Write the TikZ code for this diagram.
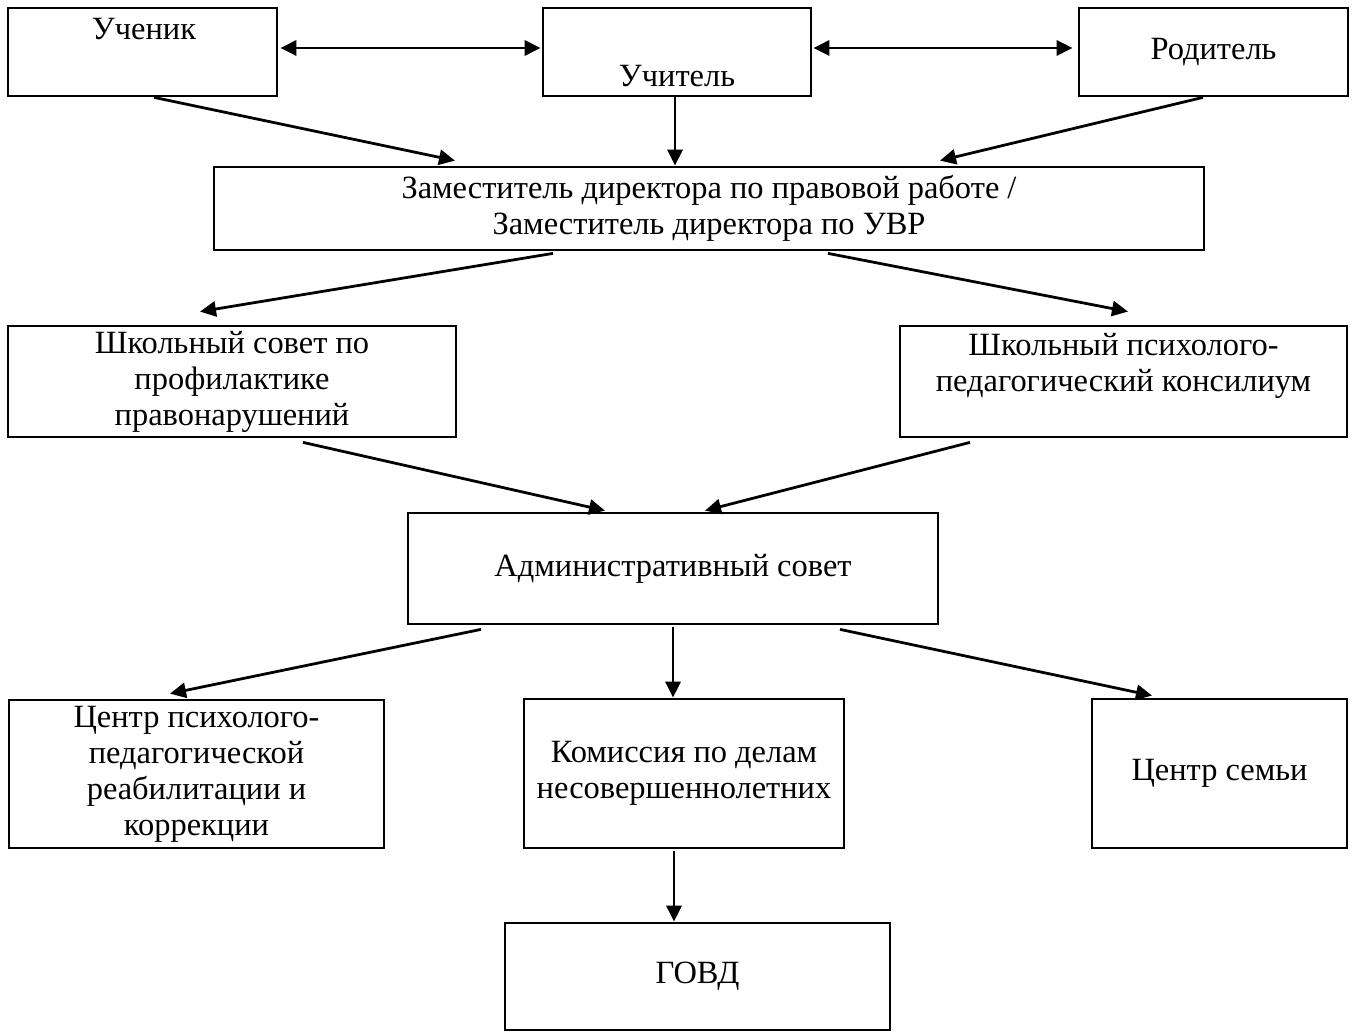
\documentclass[tikz,border=0pt]{standalone}
\usepackage{fontspec}
\setmainfont{Liberation Serif}
\usetikzlibrary{arrows.meta}

\begin{document}
\begin{tikzpicture}[x=0.45pt, y=-0.45pt,
        font=\fontsize{14.6}{16.2}\selectfont,
        box/.style 2 args={draw, line width=1.25pt, rectangle, align=center,
                           inner sep=0pt, minimum width=#1*0.45pt, minimum height=#2*0.45pt},
        txt/.style={align=center, inner sep=0pt},
        arr/.style={line width=1.25pt, -{Triangle[length=7.2pt, width=6.8pt]}},
        dbl/.style={line width=1.25pt, {Triangle[length=7.2pt, width=6.8pt]}-{Triangle[length=7.2pt, width=6.8pt]}}]
    \useasboundingbox (0,0) rectangle (1354,1032);

    % Top row
    \node[box={269}{88}] (ucen) at (142.5,52) {};
    \node[txt] (ucen-t) at ([shift={(1.5,-23)}]ucen.center) {Ученик};
    \node[box={268}{88}] (ucit) at (677,52) {};
    \node[txt] (ucit-t) at ([shift={(0,24)}]ucit.center) {Учитель};
    \node[box={269}{88}] (rod) at (1213.5,52) {Родитель};

    % Deputies
    \node[box={990}{83}] (zam) at (709,208.5)
        {Заместитель директора по правовой работе /\\ Заместитель директора по УВР};

    % Councils
    \node[box={448}{111}] (sovet) at (232,381.5)
        {Школьный совет по\\ профилактике\\ правонарушений};
    \node[box={447}{111}] (ppk) at (1123.5,381.5) {};
    \node[txt] (ppk-t) at ([shift={(0,-16)}]ppk.center)
        {Школьный психолого-\\ педагогический консилиум};
    \node[box={530}{111}] (adm) at (673,568.5) {Административный совет};

    % Bottom row
    \node[box={375}{148}] (centr) at (196.5,774)
        {Центр психолого-\\ педагогической\\ реабилитации и\\ коррекции};
    \node[box={320}{149}] (kdn) at (684,773.5)
        {Комиссия по делам\\ несовершеннолетних};
    \node[box={255}{149}] (semya) at (1219.5,773.5) {Центр семьи};
    \node[box={385}{107}] (govd) at (697.5,976.5) {ГОВД};

    % Two-way links
    \draw[dbl] ([shift={(2,-4)}]ucen.east) -- ([shift={(-1,-4)}]ucit.west);
    \draw[dbl] ([shift={(1,-4)}]ucit.east) -- ([shift={(-5,-4)}]rod.west);

    % Arrows down
    \draw[arr] ([shift={(11.5,0)}]ucen.south) -- ([shift={(-254,-5)}]zam.north);
    \draw[arr] ([shift={(-2,0)}]ucit.south) -- ([shift={(-34,0)}]zam.north);
    \draw[arr] ([shift={(-10.5,0)}]rod.south) -- ([shift={(231,-5)}]zam.north);
    \draw[arr] ([shift={(-156,2)}]zam.south) -- ([shift={(-32,-13)}]sovet.north);
    \draw[arr] ([shift={(119,2)}]zam.south) -- ([shift={(4.5,-13)}]ppk.north);
    \draw[arr] ([shift={(71,4)}]sovet.south) -- ([shift={(-68,-1)}]adm.north);
    \draw[arr] ([shift={(-153.5,4)}]ppk.south) -- ([shift={(32,-1)}]adm.north);
    \draw[arr] ([shift={(-192,4)}]adm.south) -- ([shift={(-26.5,-5)}]centr.north);
    \draw[arr] ([shift={(0,2)}]adm.south) -- ([shift={(-11,0)}]kdn.north);
    \draw[arr] ([shift={(167,4)}]adm.south) -- ([shift={(-67.5,-2)}]semya.north);
    \draw[arr] ([shift={(-10,2)}]kdn.south) -- ([shift={(-23.5,0)}]govd.north);
\end{tikzpicture}
\end{document}
